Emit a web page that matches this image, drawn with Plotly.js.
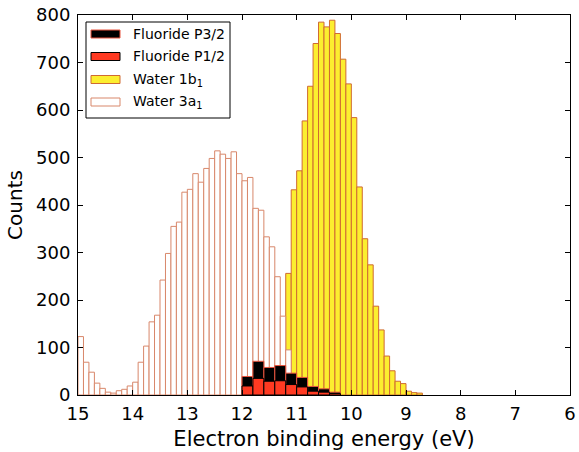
<!DOCTYPE html>
<html>
<head>
<meta charset="utf-8">
<script src="https://cdn.plot.ly/plotly-3.0.1.min.js"></script>
<style>
  html, body { margin: 0; padding: 0; background: #ffffff; }
  #chart { width: 579px; height: 452px; }
</style>
</head>
<body>
<div id="chart"></div>
<script>
// ---- Data ----
// Water 3a1: 0.1 eV bins, centres
const water3aX = [14.95, 14.85, 14.75, 14.65, 14.55, 14.45, 14.35, 14.25, 14.15, 14.05,
                  13.95, 13.85, 13.75, 13.65, 13.55, 13.45, 13.35, 13.25, 13.15, 13.05,
                  12.95, 12.85, 12.75, 12.65, 12.55, 12.45, 12.35, 12.25, 12.15, 12.05,
                  11.95, 11.85, 11.75, 11.65, 11.55, 11.45, 11.35, 11.25, 11.15];
const water3aY = [123, 69, 48, 25, 14, 6, 4, 9, 12, 19,
                  27, 69, 103, 154, 168, 242, 298, 355, 364, 427,
                  433, 466, 448, 477, 498, 514, 507, 498, 512, 466,
                  451, 458, 393, 389, 333, 312, 249, 166, 95];

// Water 1b1: 0.1 eV bins, centres
const water1bX = [11.15, 11.05, 10.95, 10.85, 10.75, 10.65, 10.55, 10.45, 10.35, 10.25,
                  10.15, 10.05, 9.95, 9.85, 9.75, 9.65, 9.55, 9.45, 9.35, 9.25,
                  9.15, 9.05, 8.95, 8.85, 8.75];
const water1bY = [256, 432, 472, 577, 650, 740, 785, 775, 789, 761,
                  707, 655, 584, 438, 329, 274, 187, 137, 82, 51,
                  29, 24, 8, 5, 4];

// Fluoride: 0.2 eV bins, centres
const fluorX   = [11.9, 11.7, 11.5, 11.3, 11.1, 10.9, 10.7, 10.5, 10.3];
const fluorP32 = [39, 71, 58, 62, 46, 37, 18, 13, 6];
const fluorP12 = [19, 35, 29, 30, 22, 17, 8, 6, 3];

const xTicks = [15, 14, 13, 12, 11, 10, 9, 8, 7, 6];
const yTicks = [0, 100, 200, 300, 400, 500, 600, 700, 800];

const legendLabels = ['Fluoride P3/2', 'Fluoride P1/2', 'Water 1b<sub>1</sub>', 'Water 3a<sub>1</sub>'];

// ---- Styles ----
const FONT = 'DejaVu Sans, sans-serif';
const styles = {
  p32: {fill: '#000000', line: '#e8553f'},
  p12: {fill: '#ff3a22', line: '#000000'},
  w1b: {fill: '#fcee2f', line: '#cf6a32'},
  w3a: {fill: '#ffffff', line: '#d8876a'}
};

const traces = [
  {type: 'bar', name: 'Water 1b1', x: water1bX, y: water1bY, width: 0.1,
   marker: {color: styles.w1b.fill, line: {color: styles.w1b.line, width: 1}}},
  {type: 'bar', name: 'Water 3a1', x: water3aX, y: water3aY, width: 0.1,
   marker: {color: styles.w3a.fill, line: {color: styles.w3a.line, width: 1}}},
  {type: 'bar', name: 'Fluoride P3/2', x: fluorX, y: fluorP32, width: 0.2,
   marker: {color: styles.p32.fill, line: {color: styles.p32.line, width: 1}}},
  {type: 'bar', name: 'Fluoride P1/2', x: fluorX, y: fluorP12, width: 0.2,
   marker: {color: styles.p12.fill, line: {color: styles.p12.line, width: 1}}}
];

// ---- Custom legend (wide patches as in the reference) ----
const W = 579, H = 452, L = 78, R = 9, T = 15, B = 57;
const pw = W - L - R, ph = H - T - B;
const px2x = p => (p - L) / pw;
const py2y = p => (H - B - p) / ph;
const legendStyles = [styles.p32, styles.p12, styles.w1b, styles.w3a];
const rowY = [34, 56.5, 79.5, 102];
const shapes = [{
  type: 'rect', xref: 'paper', yref: 'paper',
  x0: px2x(86), x1: px2x(230), y0: py2y(118), y1: py2y(22),
  line: {color: '#000000', width: 1}, fillcolor: '#ffffff', layer: 'above'
}];
const annotations = [];
legendLabels.forEach((lab, i) => {
  shapes.push({
    type: 'rect', xref: 'paper', yref: 'paper',
    x0: px2x(91), x1: px2x(120), y0: py2y(rowY[i] + 4), y1: py2y(rowY[i] - 4),
    line: {color: legendStyles[i].line, width: 1}, fillcolor: legendStyles[i].fill, layer: 'above'
  });
  annotations.push({
    xref: 'paper', yref: 'paper', x: px2x(131), y: py2y(rowY[i]),
    xanchor: 'left', yanchor: 'middle', text: lab, showarrow: false,
    font: {family: FONT, size: 14, color: '#000000'}
  });
});

const layout = {
  width: W, height: H,
  margin: {l: L, r: R, t: T, b: B, pad: 0},
  paper_bgcolor: '#ffffff', plot_bgcolor: '#ffffff',
  barmode: 'overlay', bargap: 0,
  showlegend: false,
  font: {family: FONT, color: '#000000'},
  xaxis: {
    range: [15, 6], autorange: false,
    tickmode: 'array', tickvals: xTicks, ticktext: xTicks.map(String),
    ticks: 'inside', ticklen: 5, tickwidth: 1, tickcolor: '#000000',
    showline: true, linecolor: '#000000', linewidth: 1, mirror: 'ticks',
    showgrid: false, zeroline: false,
    tickfont: {family: FONT, size: 18, color: '#000000'},
    ticklabelstandoff: 2,
    automargin: false,
    title: {text: 'Electron binding energy (eV)', standoff: 8,
            font: {family: FONT, size: 21, color: '#000000'}}
  },
  yaxis: {
    range: [0, 800], autorange: false,
    tickmode: 'array', tickvals: yTicks, ticktext: yTicks.map(String),
    ticks: 'inside', ticklen: 5, tickwidth: 1, tickcolor: '#000000',
    showline: true, linecolor: '#000000', linewidth: 1, mirror: 'ticks',
    showgrid: false, zeroline: false,
    tickfont: {family: FONT, size: 18, color: '#000000'},
    ticklabelstandoff: 3,
    automargin: false,
    title: {text: 'Counts', standoff: 8,
            font: {family: FONT, size: 20, color: '#000000'}}
  },
  shapes: shapes,
  annotations: annotations
};

Plotly.newPlot('chart', traces, layout, {staticPlot: true, displayModeBar: false});
</script>
</body>
</html>
